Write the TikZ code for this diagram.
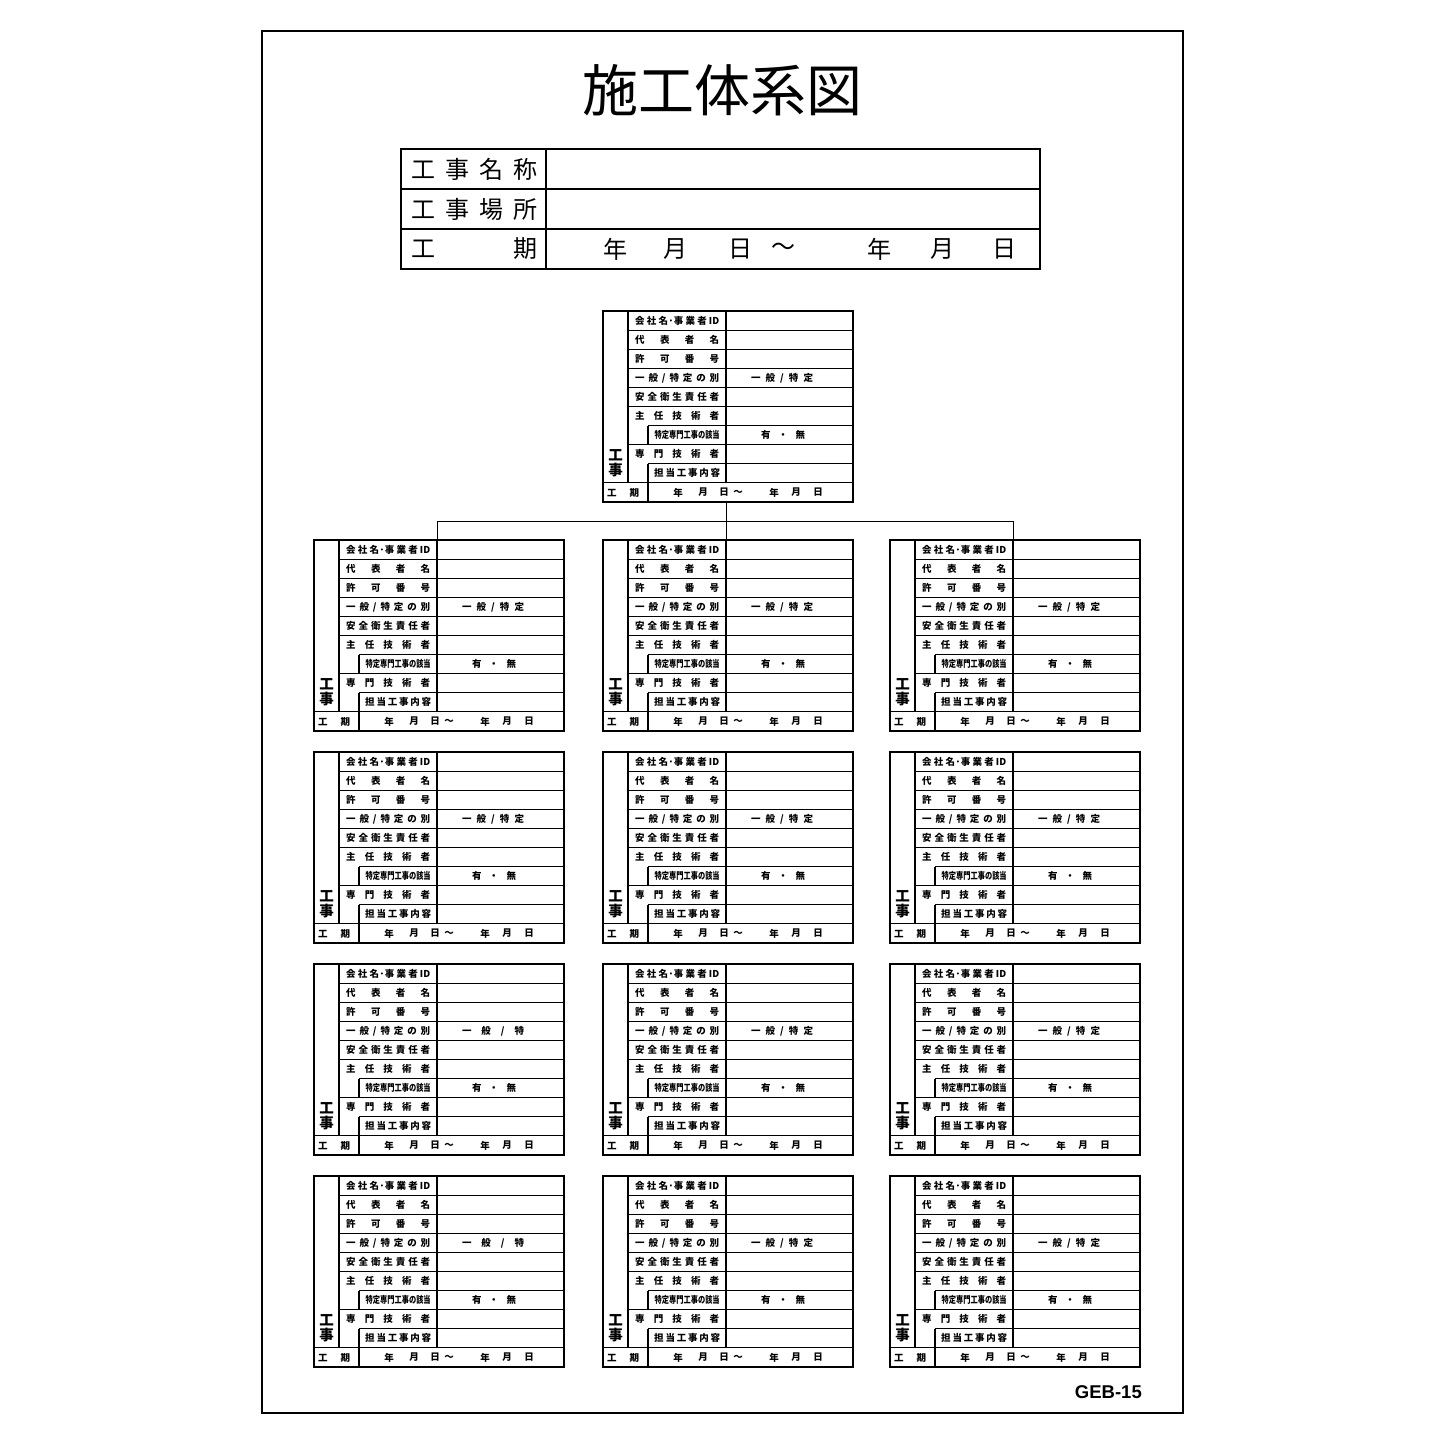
\documentclass[tikz,border=0pt]{standalone}
\usepackage{fontspec}
\usepackage{graphicx}
\setmainfont{Noto Sans CJK JP}
\newfontfamily\gebfont{Liberation Sans}

% one company form: name, top left x, top left y, text of the 一般/特定 cell
\newcommand{\formbox}[4]{%
  \node[form box] (#1) at (#2,#3) {};
  \begin{scope}[shift={(#1.north west)}]
    \coordinate (#1-top) at (123,0);
    \coordinate (#1-bot) at (123,191);
    \foreach \k in {1,2,3,4,5,7} \draw[cell line] (25,\k*19.1) -- (250,\k*19.1);
    \foreach \k in {6,8} \draw[cell line] (45,\k*19.1) -- (250,\k*19.1);
    \draw[cell line] (0,171.9) -- (250,171.9);
    \draw[cell line] (25,0) -- (25,171.9);
    \draw[cell line] (123,0) -- (123,171.9);
    \draw[cell line] (45,114.6) -- (45,133.7) (45,152.8) -- (45,191);
    \foreach \t/\k in {{会\hfill 社\hfill 名·事\hfill 業\hfill 者\hfill ID}/1,
                       {代\hfill 表\hfill 者\hfill 名}/2,
                       {許\hfill 可\hfill 番\hfill 号}/3,
                       {一\hfill 般\hfill /\hfill 特\hfill 定\hfill の\hfill 別}/4,
                       {安\hfill 全\hfill 衛\hfill 生\hfill 責\hfill 任\hfill 者}/5,
                       {主\hfill 任\hfill 技\hfill 術\hfill 者}/6,
                       {専\hfill 門\hfill 技\hfill 術\hfill 者}/8}
      \node[lbl] (#1-l\k) at (32,\k*19.1-9.55) {\makebox[84pt]{\t}};
    \node[lbl] (#1-l7) at (51,124.15) {\makebox[66pt]{\scalebox{0.76}[1]{特定専門工事の該当}}};
    \node[lbl] (#1-l9) at (51,162.35) {\makebox[66pt]{担\hfill 当\hfill 工\hfill 事\hfill 内\hfill 容}};
    \node[lbl, anchor=center] (#1-v4) at (179,66.85) {\makebox[62pt]{#4}};
    \node[lbl, anchor=center] (#1-v7) at (180,124.15) {\makebox[44pt]{有\hfill ・\hfill 無}};
    \node[lbl, anchor=center, align=center, font=\bfseries\fontsize{14.5}{15}\selectfont] (#1-j) at (12.5,152) {工\\事};
    \node[lbl] (#1-k) at (4,181.5) {\makebox[32pt]{工\hfill 期}};
    \foreach \d/\x in {年/75,月/100,日/121,～/135,年/171,月/193,日/215}
      \node[lbl, anchor=center] (#1-d\x) at (\x,181.5) {\d};
  \end{scope}}

\begin{document}
\begin{tikzpicture}[x=1pt,y=-1pt]

  \tikzstyle{form box}=[rectangle,draw,line width=1.2pt,anchor=north west,minimum width=250pt,minimum height=191pt,inner sep=0pt,outer sep=0pt]
  \tikzstyle{cell line}=[line width=1.1pt]
  \tikzstyle{head line}=[line width=1.5pt]
  \tikzstyle{lbl}=[anchor=west,inner sep=0pt,font=\bfseries\fontsize{9.5}{10}\selectfont]
  \tikzstyle{head text}=[anchor=west,inner sep=0pt,font=\fontsize{24}{26}\selectfont]
  \tikzstyle{link}=[line width=1pt]

  \fill[white] (0,0) rectangle (1445,1445);
  \useasboundingbox (0,0) rectangle (1445,1445);
  \draw[line width=1.5pt] (262,31) rectangle (1183,1413);

  \node[inner sep=0pt,font=\fontsize{56}{60}\selectfont] (title) at (722,90) {施工体系図};

  % header table
  \draw[head line] (401,149) rectangle (1040,269);
  \draw[head line] (401,189) -- (1040,189) (401,229) -- (1040,229) (546,149) -- (546,269);
  \node[head text] (h1) at (411,169) {\makebox[126pt]{工\hfill 事\hfill 名\hfill 称}};
  \node[head text] (h2) at (411,209) {\makebox[126pt]{工\hfill 事\hfill 場\hfill 所}};
  \node[head text] (h3) at (411,249) {\makebox[126pt]{工\hfill 期}};
  \foreach \d/\x in {年/615,月/675,日/740,～/783,年/879,月/942,日/1004}
    \node[head text, anchor=center] (hd\x) at (\x,249) {\d};

  % forms
  \formbox{B0}{603}{311}{一\hfill 般\hfill /\hfill 特\hfill 定}
  \formbox{B11}{314}{540}{一\hfill 般\hfill /\hfill 特\hfill 定}
  \formbox{B12}{603}{540}{一\hfill 般\hfill /\hfill 特\hfill 定}
  \formbox{B13}{890}{540}{一\hfill 般\hfill /\hfill 特\hfill 定}
  \formbox{B21}{314}{752}{一\hfill 般\hfill /\hfill 特\hfill 定}
  \formbox{B22}{603}{752}{一\hfill 般\hfill /\hfill 特\hfill 定}
  \formbox{B23}{890}{752}{一\hfill 般\hfill /\hfill 特\hfill 定}
  \formbox{B31}{314}{964}{一\hfill 般\hfill /\hfill 特}
  \formbox{B32}{603}{964}{一\hfill 般\hfill /\hfill 特\hfill 定}
  \formbox{B33}{890}{964}{一\hfill 般\hfill /\hfill 特\hfill 定}
  \formbox{B41}{314}{1176}{一\hfill 般\hfill /\hfill 特}
  \formbox{B42}{603}{1176}{一\hfill 般\hfill /\hfill 特\hfill 定}
  \formbox{B43}{890}{1176}{一\hfill 般\hfill /\hfill 特\hfill 定}

  \draw[link] (B0-bot) -- (B12-top);
  \draw[link] (B11-top) -- ++(0,-19) -| (B13-top);

  \node[anchor=base east,inner sep=0pt,font=\gebfont\bfseries\fontsize{18.5}{20}\selectfont] (code) at (1142,1398) {GEB-15};

\end{tikzpicture}
\end{document}
